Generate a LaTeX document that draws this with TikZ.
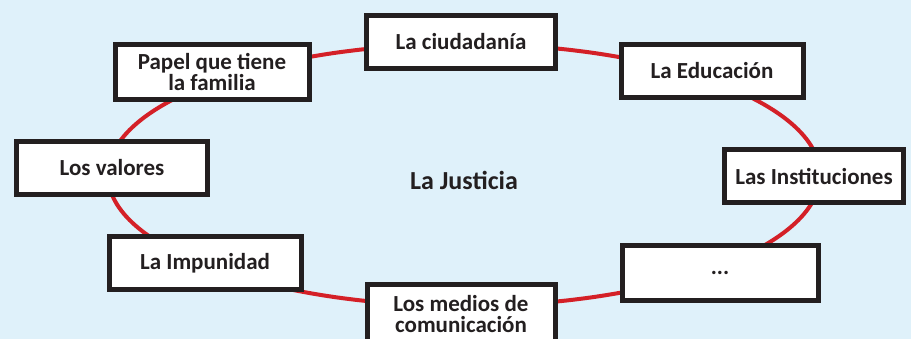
\documentclass[tikz,border=0pt]{standalone}
\usepackage{fontspec}
\setmainfont{Carlito}
\usetikzlibrary{positioning}
\definecolor{fondo}{HTML}{DFF1FA}
\definecolor{rojo}{HTML}{D42027}
\definecolor{negro}{HTML}{231F20}
\tikzset{
tema/.style={draw=negro, line width=5pt, fill=white, minimum height=53pt, minimum width=190pt,
  align=center, font=\fontsize{23pt}{21pt}\selectfont\bfseries, text=negro, inner sep=1pt},
}

\begin{document}
\begin{tikzpicture}[x=1pt, y=-1pt]
    \fill[fondo] (0,0) rectangle (911,339);
    \useasboundingbox (0,0) rectangle (911,339);
    \coordinate (centro) at (464,175);
    \draw[rojo, line width=4pt] (centro) ellipse [x radius=356pt, y radius=131pt];
    \node[font=\fontsize{26pt}{26pt}\selectfont\bfseries, text=negro] (justicia) at (464,180) {La Justicia};
    \node[tema, minimum width=189pt] (ciud) at (461,42) {La ciudadanía};
    \node[tema, minimum width=194pt, minimum height=55pt] (papel) at (212,72) {Papel que tiene\\la familia};
    \node[tema, minimum width=182pt] (educ) at (712,71) {La Educación};
    \node[tema, minimum width=191pt] (valores) at (112,168) {Los valores};
    \node[tema, minimum width=179pt] (inst) at (814,176) {Las Instituciones};
    \node[tema, minimum width=192pt] (impun) at (205,263) {La Impunidad};
    \node[tema, minimum width=196pt, minimum height=55pt] (puntos) at (720,273) {...};
    \node[tema, minimum width=188pt, minimum height=59pt] (medios) at (461,314) {Los medios de\\comunicación};
\end{tikzpicture}
\end{document}
